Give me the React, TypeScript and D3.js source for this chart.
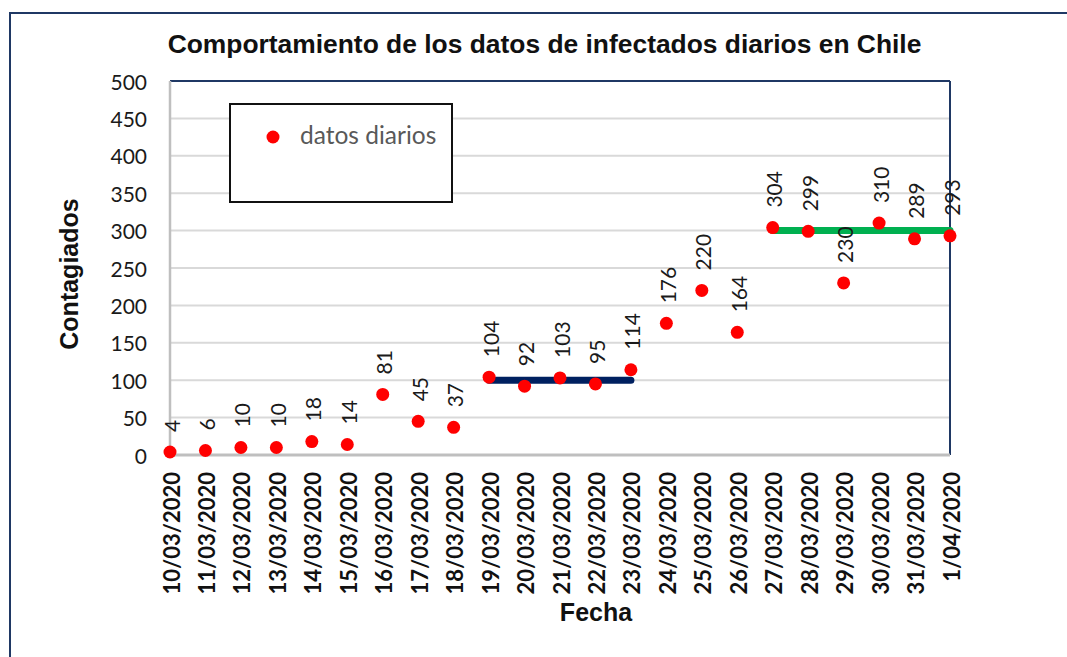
import React from "react";
import * as d3 from "d3";

const dates = [
  "10/03/2020", "11/03/2020", "12/03/2020", "13/03/2020", "14/03/2020", "15/03/2020",
  "16/03/2020", "17/03/2020", "18/03/2020", "19/03/2020", "20/03/2020", "21/03/2020",
  "22/03/2020", "23/03/2020", "24/03/2020", "25/03/2020", "26/03/2020", "27/03/2020",
  "28/03/2020", "29/03/2020", "30/03/2020", "31/03/2020", "1/04/2020",
];
const dailyCases = [4, 6, 10, 10, 18, 14, 81, 45, 37, 104, 92, 103, 95, 114, 176, 220, 164, 304, 299, 230, 310, 289, 293];
const yTicks = [0, 50, 100, 150, 200, 250, 300, 350, 400, 450, 500];
const levelStart = ["19/03/2020", "27/03/2020"];
const levelEnd = ["23/03/2020", "1/04/2020"];
const levelValue = [100, 300];

const levelColors = ["#002060", "#00b050"];
const navy = "#1f3864";
const labelFont = "Lato, 'Open Sans', sans-serif";
const boldFont = "'Liberation Sans', Arial, sans-serif";

export default function App() {
  const W = 1067, H = 657;
  const left = 170, right = 950, top = 81, bottom = 455;
  const x = d3.scalePoint<string>().domain(dates).range([left, right]).padding(0);
  const y = d3.scaleLinear().domain([0, 500]).range([bottom, top]);

  return (
    <svg width={W} height={H} style={{ position: "absolute", left: 0, top: 0, background: "#fff" }}>
      <rect x={0} y={0} width={W} height={H} fill="#fff" />
      {/* outer frame */}
      <rect x={10} y={13} width={W + 20} height={H + 20} fill="none" stroke={navy} strokeWidth={2} />
      {/* title */}
      <text x={544.5} y={53} textAnchor="middle" fontFamily={boldFont} fontWeight="bold" fontSize={26.4} fill="#111">
        Comportamiento de los datos de infectados diarios en Chile
      </text>
      {/* gridlines */}
      {yTicks.filter(t => t > 0 && t < 500).map(t => (
        <line key={t} x1={left} x2={right} y1={y(t)} y2={y(t)} stroke="#d9d9d9" strokeWidth={2} />
      ))}
      {/* frame top/right */}
      <line x1={left} x2={right} y1={y(500)} y2={y(500)} stroke={navy} strokeWidth={2} />
      <line x1={right} x2={right} y1={y(500)} y2={y(0)} stroke={navy} strokeWidth={2} />
      {/* axes */}
      <line x1={left} x2={left} y1={y(500)} y2={y(0)} stroke="#bfbfbf" strokeWidth={2.5} />
      <line x1={left} x2={right} y1={y(0)} y2={y(0)} stroke="#bfbfbf" strokeWidth={3} />
      {/* y tick labels */}
      {yTicks.map(t => (
        <text key={t} x={147} y={y(t)} textAnchor="end" dominantBaseline="central" fontFamily={labelFont} fontSize={21} fill="#1a1a1a">
          {t}
        </text>
      ))}
      {/* x tick labels */}
      {dates.map(d => (
        <text key={d} transform={`translate(${x(d)! + 1},472) rotate(-90)`} textAnchor="end" dominantBaseline="central"
          fontFamily={labelFont} fontWeight="bold" fontSize={22} fill="#111">
          {d}
        </text>
      ))}
      {/* level lines */}
      {levelValue.map((v, i) => (
        <line key={i} x1={x(levelStart[i])} x2={x(levelEnd[i])} y1={y(v)} y2={y(v)}
          stroke={levelColors[i]} strokeWidth={7} strokeLinecap="round" />
      ))}
      {/* points */}
      {dates.map((d, i) => (
        <circle key={d} cx={x(d)} cy={y(dailyCases[i])} r={6.5} fill="#ff0000" />
      ))}
      {/* data labels */}
      {dates.map((d, i) => (
        <text key={d} transform={`translate(${x(d)! + 1},${y(dailyCases[i]) - 20}) rotate(-90)`} textAnchor="start"
          dominantBaseline="central" fontFamily={labelFont} fontSize={21} fill="#1a1a1a">
          {dailyCases[i]}
        </text>
      ))}
      {/* legend */}
      <rect x={230} y={104} width={222} height={98} fill="#fff" stroke="#111" strokeWidth={2} />
      <circle cx={273} cy={137} r={6.5} fill="#ff0000" />
      <text x={300} y={144} fontFamily={labelFont} fontSize={24.5} fill="#595959">datos diarios</text>
      {/* axis titles */}
      <text transform="translate(78,274) rotate(-90)" textAnchor="middle" fontFamily={boldFont} fontWeight="bold" fontSize={25} fill="#111">
        Contagiados
      </text>
      <text x={596} y={621} textAnchor="middle" fontFamily={boldFont} fontWeight="bold" fontSize={25} fill="#111">
        Fecha
      </text>
    </svg>
  );
}
